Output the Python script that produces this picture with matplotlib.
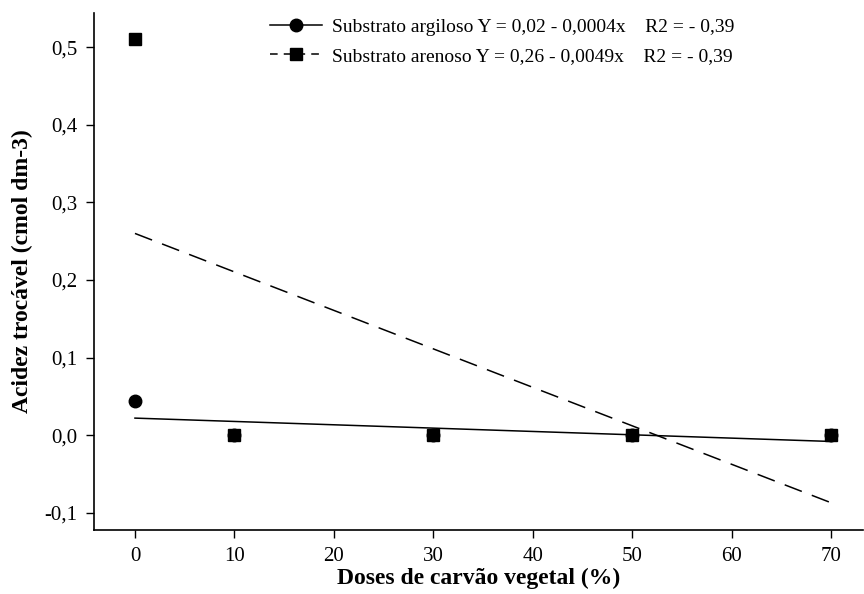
import numpy as np
import matplotlib.pyplot as plt

plt.rcParams['font.family'] = ['Liberation Serif', 'DejaVu Serif']

doses = [0, 10, 30, 50, 70]
argiloso = [0.044, 0.0, 0.0, 0.0, 0.0]
arenoso = [0.51, 0.0, 0.0, 0.0, 0.0]

# fitted lines (intercept, slope)
fit_arg = (0.022, -0.00043)
fit_are = (0.26, -0.00496)

lab_arg = "Substrato argiloso Y = 0,02 - 0,0004x    R2 = - 0,39"
lab_are = "Substrato arenoso Y = 0,26 - 0,0049x    R2 = - 0,39"

fig = plt.figure(figsize=(8.64, 5.94), dpi=100)
ax = fig.add_axes([0.109, 0.108, 0.89, 0.87])

xd = np.array([doses[0], doses[-1]])
ax.plot(xd, fit_arg[0] + fit_arg[1] * xd, 'k-', lw=1.1)
ax.plot(xd, fit_are[0] + fit_are[1] * xd, 'k', lw=1.1, dashes=(12, 7))

ax.plot(doses, argiloso, 'ko', ms=9, ls='none')
ax.plot(doses, arenoso, 'ks', ms=9, ls='none')

# legend handles
h1, = ax.plot([], [], 'k-', marker='o', ms=9, lw=1.1)
h2, = ax.plot([], [], 'k', marker='s', ms=9, lw=1.1, dashes=(5, 4))
ax.legend([h1, h2], [lab_arg, lab_are], loc='upper left', bbox_to_anchor=(0.292, 0.998),
          bbox_transform=fig.transFigure, frameon=False, fontsize=14,
          handlelength=2.7, handletextpad=0.5, labelspacing=0.55)

ax.set_xlim(-4.1, 73.2)
ax.set_ylim(-0.122, 0.544)
ax.set_xticks([0, 10, 20, 30, 40, 50, 60, 70])
yt = [-0.1, 0.0, 0.1, 0.2, 0.3, 0.4, 0.5]
ax.set_yticks(yt)
ax.set_yticklabels([f"{v:.1f}".replace('.', ',') for v in yt])
ax.tick_params(direction='out', labelsize=15, width=1, length=6, pad=6)
for s in ['top', 'right']:
    ax.spines[s].set_visible(False)
for s in ['left', 'bottom']:
    ax.spines[s].set_linewidth(1.2)

ax.set_xlabel("Doses de carvão vegetal (%)", fontsize=17, fontweight='bold', labelpad=2)
ax.set_ylabel("Acidez trocável (cmol dm-3)", fontsize=17, fontweight='bold', labelpad=8)

fig.savefig("out.png", dpi=100)
